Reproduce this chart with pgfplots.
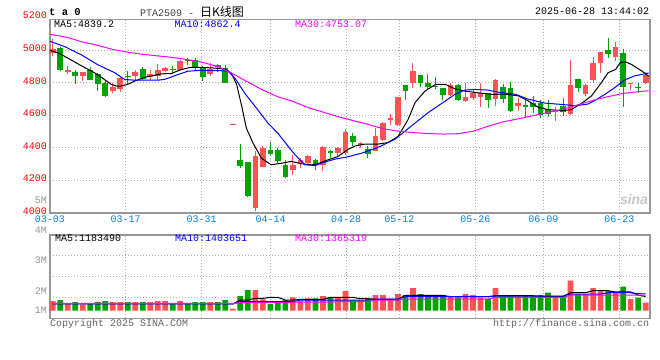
\documentclass[border=0pt]{standalone}
\usepackage{fontspec}
\setmainfont{Liberation Mono}
\newfontfamily\cjk{Noto Sans CJK SC}
\newfontfamily\sansf{Liberation Sans}
\usepackage{pgfplots}
\pgfplotsset{compat=1.18}
\usepackage{pgfplotstable}

\definecolor{upred}{RGB}{255,82,82}
\definecolor{dngreen}{RGB}{0,163,0}
\definecolor{gridgray}{RGB}{175,175,175}
\definecolor{framegray}{RGB}{150,150,150}
\definecolor{xblue}{RGB}{0,128,224}
\definecolor{mathirty}{RGB}{255,0,255}
\definecolor{labgray}{RGB}{150,150,150}
\definecolor{txtgray}{RGB}{100,100,100}

\newcommand\ff{\fontsize{10bp}{12bp}\selectfont}

% candles: up (close >= open)
\pgfplotstableread{
i o h l c
0 4986 5067 4966 5010
2 4865 4905 4855 4877
4 4840 4869 4814 4869
8 4748 4800 4739 4772
9 4760 4840 4743 4830
11 4840 4881 4810 4865
13 4836 4881 4820 4857
14 4840 4917 4816 4881
15 4873 4897 4865 4889
17 4881 4937 4877 4931
21 4857 4922 4843 4882
24 4543 4549 4543 4549
27 4031 4378 4010 4351
28 4282 4412 4280 4398
32 4266 4357 4235 4296
33 4306 4337 4276 4327
34 4306 4357 4302 4351
36 4296 4412 4255 4408
38 4368 4408 4351 4402
39 4370 4515 4357 4500
41 4419 4439 4402 4433
43 4382 4520 4378 4470
44 4449 4560 4440 4551
45 4571 4606 4539 4586
46 4539 4712 4535 4712
48 4798 4922 4770 4873
53 4725 4798 4718 4786
55 4688 4796 4684 4714
56 4704 4755 4694 4739
57 4714 4796 4653 4735
59 4698 4822 4655 4815
62 4655 4704 4628 4675
67 4618 4653 4568 4633
69 4608 4943 4602 4785
71 4730 4791 4718 4785
72 4817 4959 4796 4919
73 4919 4992 4858 4992
75 4957 5049 4933 5018
77 4791 4801 4756 4801
79 4797 4866 4791 4850
}\uptab

% candles: down (close < open)
\pgfplotstableread{
i o h l c
1 5014 5018 4875 4881
3 4865 4881 4790 4840
5 4881 4897 4820 4820
6 4851 4861 4750 4794
7 4800 4810 4713 4719
10 4842 4871 4790 4834
12 4885 4895 4816 4824
16 4887 4901 4855 4879
18 4943 4950 4911 4935
19 4941 4950 4881 4897
20 4888 4902 4812 4837
22 4908 4918 4867 4898
23 4888 4908 4796 4796
25 4327 4423 4276 4290
26 4315 4315 4096 4102
29 4388 4435 4357 4364
30 4388 4402 4306 4317
31 4294 4323 4215 4221
35 4327 4331 4266 4296
37 4378 4388 4337 4368
40 4470 4490 4412 4437
42 4396 4412 4335 4363
47 4784 4784 4694 4749
49 4847 4847 4772 4796
50 4796 4851 4759 4771
51 4782 4833 4759 4772
52 4765 4768 4694 4725
54 4786 4790 4690 4694
58 4735 4739 4647 4694
60 4777 4791 4675 4700
61 4765 4806 4620 4628
63 4663 4694 4588 4649
64 4675 4720 4612 4649
65 4675 4694 4582 4602
66 4639 4696 4592 4608
68 4659 4704 4594 4618
70 4821 4821 4744 4765
74 5004 5077 4953 4978
76 4984 5010 4649 4777
78 4777 4801 4736 4767
}\dntab

\pgfplotstableread{
i v
0 808000
2 608000
4 525000
8 725000
9 725000
11 725000
13 725000
14 808000
15 808000
17 808000
21 725000
24 167000
27 1725000
28 942000
32 1108000
33 808000
34 1025000
36 1225000
38 1108000
39 1642000
41 892000
43 1308000
44 1308000
45 1000000
46 1392000
48 1892000
53 1167000
55 1392000
56 1308000
57 1083000
59 1892000
62 1225000
67 1225000
69 2500000
71 1392000
72 1892000
73 1642000
75 1558000
77 975000
79 667000
}\volup

\pgfplotstableread{
i v
1 892000
3 725000
5 558000
6 725000
7 808000
10 725000
12 725000
16 608000
18 608000
19 725000
20 725000
22 725000
23 892000
25 1225000
26 1725000
29 558000
30 808000
31 892000
35 1025000
37 1108000
40 892000
42 1000000
47 1308000
49 1392000
50 1308000
51 1225000
52 1225000
54 1108000
58 1000000
60 1225000
61 1225000
63 1225000
64 1225000
65 1308000
66 1500000
68 1225000
70 1392000
74 1642000
76 2000000
78 1083000
}\voldn

\begin{document}
\begin{tikzpicture}
\path[use as bounding box] (0bp,0bp) rectangle (660bp,360bp);
\fill[white] (0bp,0bp) rectangle (660bp,360bp);

% ---------------- main price panel ----------------
\begin{axis}[at={(50bp,147bp)}, anchor=south west, scale only axis,
  width=600bp, height=193.7bp,
  xmin=-0.36, xmax=79.58, ymin=4000, ymax=5190,
  axis line style={framegray, line width=1.2bp},
  xtick={-0.36,9.73,19.85,29.04,39.08,46.18,56.3,65.36,75.49},
  xticklabels={03-03,03-17,03-31,04-14,04-28,05-12,05-26,06-09,06-23},
  ytick={4000,4200,4400,4600,4800,5000},
  yticklabels={4000,4200,4400,4600,4800,5000},
  major tick length=0pt,
  xmajorgrids, ymajorgrids,
  grid style={gridgray, line width=0.9bp, dash pattern=on 1bp off 2bp},
  xticklabel style={font=\ff, text=xblue, anchor=north, inner sep=0pt, yshift=-3bp},
  yticklabel style={font=\ff, text=red, anchor=east, inner sep=0pt, xshift=-3bp, yshift=2bp},
  clip=false]

% wicks
\addplot[draw=none, mark=none, error bars/.cd, y dir=plus, y explicit, error mark=none,
  error bar style={draw=upred, line width=1bp}]
  table[x=i, y=l, y error plus expr=\thisrow{h}-\thisrow{l}] {\uptab};
\addplot[draw=none, mark=none, error bars/.cd, y dir=plus, y explicit, error mark=none,
  error bar style={draw=dngreen, line width=1bp}]
  table[x=i, y=l, y error plus expr=\thisrow{h}-\thisrow{l}] {\dntab};
% bodies
\addplot[draw=none, mark=none, error bars/.cd, y dir=plus, y explicit, error mark=none,
  error bar style={draw=upred, line width=5.7bp}]
  table[x=i, y=o, y error plus expr=\thisrow{c}-\thisrow{o}] {\uptab};
\addplot[draw=none, mark=none, error bars/.cd, y dir=plus, y explicit, error mark=none,
  error bar style={draw=dngreen, line width=5.7bp}]
  table[x=i, y=c, y error plus expr=\thisrow{o}-\thisrow{c}] {\dntab};

% MA5
\addplot[black, line width=1bp, mark=none] coordinates {
(-0.36,5000) (0.8,4982) (2,4952) (3.8,4905) (5.6,4861) (6.9,4820) (7.8,4790) (8.5,4780)
(9.1,4780) (10,4790) (10.9,4810) (12.3,4834) (13.6,4846) (14.5,4855) (15.8,4857) (17.1,4881)
(18.4,4895) (19.8,4895) (21.6,4890) (23,4884) (23.8,4860) (24.5,4790) (25.2,4653) (25.8,4521)
(26.7,4429) (27.8,4337) (29.1,4296) (30.5,4306) (31.8,4317) (33.2,4302) (34.5,4296) (35.3,4302)
(36.7,4327) (38,4347) (39.4,4392) (40.3,4412) (41.6,4423) (43.3,4423) (44.7,4433) (46,4470)
(47.3,4570) (48.3,4680) (49.6,4749) (51,4790) (52.3,4790) (53.6,4763) (54.9,4749) (56.6,4739)
(58.5,4729) (60.3,4730) (62,4720) (63.3,4690) (64.7,4649) (66,4635) (67.8,4629) (69.1,4635)
(70.5,4675) (71.8,4720) (73.1,4801) (74,4862) (75,4882) (75.6,4923) (76.3,4929) (77.1,4913)
(78.5,4872) (79.4,4840)};
% MA10
\addplot[blue, line width=1bp, mark=none] coordinates {
(-0.36,5055) (1.6,5022) (3.8,4972) (6,4911) (8.3,4861) (9.6,4820) (11,4816) (14.1,4816)
(15,4822) (16.3,4844) (18,4871) (19.8,4877) (22.5,4874) (23.4,4870) (24.3,4827) (25.6,4735)
(27,4653) (28.7,4551) (30,4490) (31.4,4408) (32.3,4357) (33.6,4296) (35,4292) (35.8,4306)
(37.6,4331) (39.3,4345) (41.2,4368) (43.3,4402) (45.6,4453) (47.8,4535) (50,4616) (52.3,4688)
(53.6,4729) (54.9,4755) (56.3,4759) (58,4755) (59.6,4740) (61.6,4730) (63.3,4700) (65.6,4675)
(67.8,4667) (69.6,4659) (71.3,4669) (72.2,4690) (73.6,4730) (74.9,4771) (76.2,4817) (77.5,4842)
(79.4,4860)};
% MA30
\addplot[mathirty, line width=1bp, mark=none] coordinates {
(-0.36,5098) (2,5078) (4,5050) (6,5030) (8,5005) (10,4988) (12,4975) (14,4965) (16,4956)
(18,4942) (20,4925) (22,4900) (24,4855) (26,4805) (28,4755) (30,4714) (32,4686) (34,4648)
(36,4620) (38,4592) (40,4568) (42,4545) (44,4518) (46,4503) (48,4494) (50,4488) (52,4485)
(54,4487) (56,4502) (58,4533) (60,4560) (62,4578) (64,4598) (66,4618) (68,4638) (70,4665)
(72,4692) (74,4715) (76,4735) (78,4745) (79.4,4751)};

\node[anchor=east, inner sep=0pt, font=\ff, text=red, xshift=-3bp, yshift=2bp] at (axis cs:-0.36,5200) {5200};
\end{axis}

% ---------------- volume panel ----------------
\begin{axis}[at={(50bp,41.7bp)}, anchor=south west, scale only axis,
  width=600bp, height=83.3bp,
  xmin=-0.36, xmax=79.58, ymin=-633000, ymax=6310000,
  axis line style={framegray, line width=1.2bp},
  xtick={-0.36,9.73,19.85,29.04,39.08,46.18,56.3,65.36,75.49},
  xticklabels={}, ytick={1103000,2839000,4575000}, yticklabels={},
  scaled y ticks=false, major tick length=0pt,
  xmajorgrids, ymajorgrids,
  grid style={gridgray, line width=0.9bp, dash pattern=on 1bp off 2bp},
  clip=false]
\addplot[ybar, bar width=5.7bp, bar shift=0pt, fill=upred, draw=none] table[x=i, y=v] {\volup};
\addplot[ybar, bar width=5.7bp, bar shift=0pt, fill=dngreen, draw=none] table[x=i, y=v] {\voldn};
\addplot[black, line width=1bp, mark=none] coordinates {
(0,580000) (23,580000) (24,560000) (25,890000) (26,890000) (27,1030000) (28,1030000) (29,1110000)
(30,1110000) (31,890000) (32,890000) (33,940000) (36,940000) (37,1110000) (40,1110000) (41,1000000)
(42,1000000) (43,950000) (46,950000) (47,1280000) (52,1280000) (53,1170000) (58,1170000) (59,1250000)
(64,1250000) (65,1200000) (68,1200000) (69,1500000) (71,1500000) (72,1670000) (74,1670000) (75,1560000)
(77,1560000) (78,1300000) (79,1180000)};
\addplot[blue, line width=1bp, mark=none] coordinates {
(0,560000) (24,560000) (25,750000) (32,750000) (33,890000) (42,890000) (43,970000) (46,970000)
(47,1170000) (58,1170000) (59,1220000) (68,1220000) (69,1390000) (73,1390000) (74,1500000) (77,1500000)
(78,1420000) (79,1400000)};
\addplot[mathirty, line width=1bp, mark=none] coordinates {
(0,610000) (24,610000) (25,670000) (31,670000) (32,720000) (37,720000) (38,750000) (42,750000)
(43,890000) (46,890000) (47,970000) (58,970000) (59,1110000) (68,1110000) (69,1300000) (79,1300000)};
\end{axis}

% ---------------- texts ----------------
\node[anchor=west, inner sep=0pt] at (49bp,348.3bp) {\fontsize{10.5bp}{12bp}\selectfont\bfseries t a 0};
\node[anchor=west, inner sep=0pt] at (140bp,348.3bp) {\ff\color{darkgray}PTA2509 -\hspace{6bp}{\cjk\fontsize{12bp}{12bp}\selectfont\color{black}日K线图}};
\node[anchor=east, inner sep=0pt] at (649.3bp,348.3bp) {\ff 2025-06-28 13:44:02};

\node[anchor=west, inner sep=0pt] at (54bp,336bp) {\ff MA5:4839.2};
\node[anchor=west, inner sep=0pt, text=blue] at (174.3bp,336bp) {\ff MA10:4862.4};
\node[anchor=west, inner sep=0pt, text=mathirty] at (295bp,336bp) {\ff MA30:4753.07};

\node[anchor=west, inner sep=0pt] at (55bp,121.7bp) {\ff MA5:1183490};
\node[anchor=west, inner sep=0pt, text=blue] at (175bp,121.7bp) {\ff MA10:1403651};
\node[anchor=west, inner sep=0pt, text=mathirty] at (295bp,121.7bp) {\ff MA30:1365319};

\node[anchor=east, inner sep=0pt, text=labgray] at (47bp,159.7bp) {\ff 5M};
\node[anchor=east, inner sep=0pt, text=labgray] at (47bp,130bp) {\ff 4M};
\node[anchor=east, inner sep=0pt, text=labgray] at (47bp,99.3bp) {\ff 3M};
\node[anchor=east, inner sep=0pt, text=labgray] at (47bp,69bp) {\ff 2M};
\node[anchor=east, inner sep=0pt, text=labgray] at (47bp,49.3bp) {\ff 1M};

\node[anchor=west, inner sep=0pt, text=txtgray] at (50bp,36.3bp) {\ff Copyright 2025 SINA.COM};
\node[anchor=east, inner sep=0pt, text=txtgray] at (649.3bp,36.3bp) {\ff http://finance.sina.com.cn};

\node[inner sep=0pt, text=black!22] at (634bp,161bp) {\sansf\fontsize{14bp}{14bp}\selectfont\bfseries\itshape sina};
\end{tikzpicture}
\end{document}
